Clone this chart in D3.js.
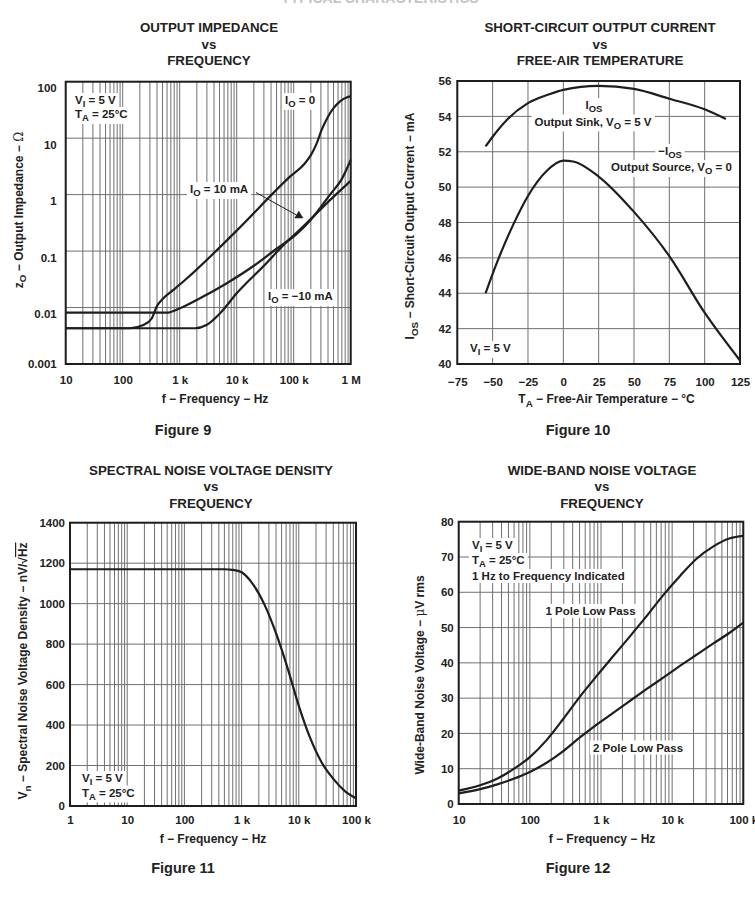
<!DOCTYPE html>
<html><head><meta charset="utf-8">
<script src="https://cdn.jsdelivr.net/npm/d3@7"></script>
<style>
body{margin:0;background:#fff}
svg text{font-family:"Liberation Sans",Arial,Helvetica,sans-serif;font-weight:bold;fill:#222}
</style></head><body>
<svg id="c" width="755" height="908"></svg>
<script>
// ---------- Figure 9: Output impedance vs frequency ----------
const f9Freq_IO0 = [10, 134, 230, 323, 395, 516, 773, 1240, 10000, 87000, 158000, 200000, 253000, 309000, 400000, 500000, 650000, 850000, 1000000];
const f9Z_IO0    = [0.0043, 0.0043, 0.0049, 0.0064, 0.0104, 0.0146, 0.0205, 0.0307, 0.23, 2.1, 3.6, 5.0, 8.1, 14, 24, 34, 45, 52.5, 55];
const f9Freq_IO10 = [10, 590, 1010, 2270, 6700, 20000, 50000, 112000, 200000, 434000, 700000, 1000000];
const f9Z_IO10    = [0.0081, 0.0081, 0.0097, 0.0146, 0.027, 0.055, 0.11, 0.2, 0.36, 1.0, 1.9, 4.1];
const f9Freq_IOm10 = [10, 1860, 2950, 5100, 10000, 30000, 76000, 112000, 434000, 1000000];
const f9Z_IOm10    = [0.0043, 0.0043, 0.0049, 0.0079, 0.0179, 0.055, 0.147, 0.21, 0.8, 1.75];
const f9XTicks = [10, 100, 1e3, 1e4, 1e5, 1e6];
const f9XLabels = ["10", "100", "1 k", "10 k", "100 k", "1 M"];
const f9YTicks = [0.001, 0.01, 0.1, 1, 10, 100];
const f9YLabels = ["0.001", "0.01", "0.1", "1", "10", "100"];

// ---------- Figure 10: Short-circuit output current vs temperature ----------
const f10SinkT = [-55, -50, -40, -25, -10, 0, 25, 50, 75, 100, 115];
const f10SinkI = [52.3, 52.85, 53.8, 54.75, 55.25, 55.5, 55.72, 55.55, 55.0, 54.4, 53.85];
const f10SourceT = [-55, -50, -35, -25, -12, 0, 7, 25, 50, 75, 100, 125];
const f10SourceI = [44.0, 45.1, 47.95, 49.5, 50.9, 51.5, 51.45, 50.6, 48.6, 46.1, 42.9, 40.2];
const f10XTicks = [-75, -50, -25, 0, 25, 50, 75, 100, 125];
const f10XLabels = ["\u221275", "\u221250", "\u221225", "0", "25", "50", "75", "100", "125"];
const f10YTicks = [40, 42, 44, 46, 48, 50, 52, 54, 56];
const f10YLabels = ["40", "42", "44", "46", "48", "50", "52", "54", "56"];

// ---------- Figure 11: Spectral noise voltage density ----------
const f11Freq = [1, 500, 700, 1000, 1585, 2512, 3981, 6310, 10000, 15850, 25120, 39810, 63100, 100000];
const f11Vn   = [1170, 1170, 1167, 1155, 1095, 995, 855, 685, 495, 335, 215, 135, 75, 38];
const f11XTicks = [1, 10, 100, 1e3, 1e4, 1e5];
const f11XLabels = ["1", "10", "100", "1 k", "10 k", "100 k"];
const f11YTicks = [0, 200, 400, 600, 800, 1000, 1200, 1400];
const f11YLabels = ["0", "200", "400", "600", "800", "1000", "1200", "1400"];

// ---------- Figure 12: Wide-band noise voltage ----------
const f12Freq  = [10, 20, 34, 58, 100, 172, 295, 500, 870, 1500, 2500, 4400, 7500, 13000, 22000, 38000, 65000, 100000];
const f12Pole1 = [3.8, 5.3, 7.1, 9.8, 13.3, 18.1, 24.1, 30.3, 36.3, 42.0, 47.3, 53.3, 59.2, 64.7, 69.5, 73.0, 75.3, 76.0];
const f12Pole2 = [3.0, 4.2, 5.5, 7.1, 9.1, 11.7, 15.0, 18.8, 22.5, 25.9, 29.1, 32.6, 35.8, 39.2, 42.3, 45.5, 48.6, 51.4];
const f12XTicks = [10, 100, 1e3, 1e4, 1e5];
const f12XLabels = ["10", "100", "1 k", "10 k", "100 k"];
const f12YTicks = [0, 10, 20, 30, 40, 50, 60, 70, 80];
const f12YLabels = ["0", "10", "20", "30", "40", "50", "60", "70", "80"];

const svg = d3.select("#c");
const INK = "#1e1e1e", GRID = "#707070";

function rich(g, x, y, parts, o = {}) {
  const size = o.size || 11.5;
  const t = g.append("text").attr("x", x).attr("y", y)
    .attr("text-anchor", o.anchor || "start")
    .attr("font-size", size)
    .attr("dominant-baseline", "central");
  if (o.rotate) t.attr("transform", `rotate(-90,${x},${y})`);
  let shift = 0;
  parts.forEach(p => {
    const [s, k] = typeof p === "string" ? [p, null] : p;
    const target = k === "sub" ? size * 0.3 : 0;
    const ts = t.append("tspan").text(s).attr("dy", target - shift);
    if (k === "sub") ts.attr("font-size", size * 0.82);
    if (k === "sym") ts.attr("font-family", "DejaVu Serif, serif").attr("font-weight", "normal");
    if (k === "over") ts.style("text-decoration", "overline");
    shift = target;
  });
  if (o.bg) {
    const b = t.node().getBBox();
    g.insert("rect", () => t.node())
      .attr("x", b.x - 3).attr("y", b.y - 1).attr("width", b.width + 6).attr("height", b.height + 2)
      .attr("fill", "#fff");
  }
  return t;
}

function panel(cfg) {
  const { x0, x1, y0, y1 } = cfg.box;
  const g = svg.append("g");
  const xs = cfg.xScale.range([x0, x1]);
  const ys = cfg.yScale.range([y1, y0]);

  cfg.title.forEach((line, i) => {
    g.append("text").attr("x", cfg.titleX).attr("y", cfg.titleY + i * 16.5)
      .attr("text-anchor", "middle").attr("dominant-baseline", "central")
      .attr("font-size", 13.3).text(line);
  });

  g.append("g").selectAll("line").data(cfg.xGrid).join("line")
    .attr("x1", d => xs(d)).attr("x2", d => xs(d)).attr("y1", y0).attr("y2", y1)
    .attr("stroke", GRID).attr("stroke-width", 1);
  g.append("g").selectAll("line").data(cfg.yGrid).join("line")
    .attr("y1", d => ys(d)).attr("y2", d => ys(d)).attr("x1", x0).attr("x2", x1)
    .attr("stroke", GRID).attr("stroke-width", 1);

  const ann = g.append("g");
  cfg.notes.forEach(n => rich(ann, n.x, n.y, n.parts, { anchor: n.anchor, bg: true }));

  const line = d3.line().x(d => xs(d[0])).y(d => ys(d[1])).curve(d3.curveMonotoneX);
  cfg.series.forEach(s => {
    g.append("path").datum(d3.zip(s[0], s[1])).attr("d", line)
      .attr("fill", "none").attr("stroke", INK).attr("stroke-width", 2.2)
      .attr("stroke-linejoin", "round");
  });

  if (cfg.extra) cfg.extra(g, xs, ys);

  g.append("rect").attr("x", x0).attr("y", y0).attr("width", x1 - x0).attr("height", y1 - y0)
    .attr("fill", "none").attr("stroke", INK).attr("stroke-width", 2);

  const ax = g.append("g").attr("transform", `translate(0,${y1})`)
    .call(d3.axisBottom(xs).tickValues(cfg.xTicks).tickSize(0).tickPadding(cfg.xPad)
      .tickFormat((d, i) => cfg.xLabels[i]));
  const ay = g.append("g").attr("transform", `translate(${x0},0)`)
    .call(d3.axisLeft(ys).tickValues(cfg.yTicks).tickSize(0).tickPadding(cfg.yPad)
      .tickFormat((d, i) => cfg.yLabels[i]));
  [ax, ay].forEach(a => {
    a.select(".domain").remove();
    a.selectAll("text").attr("font-size", 11.5).style("fill", "#222");
    a.attr("font-family", null).attr("font-size", null);
  });
  if (cfg.yDy) ay.selectAll("text").attr("dy", cfg.yDy);

  rich(g, cfg.xTitleX, cfg.xTitleY, cfg.xTitle, { anchor: "middle", size: 12 });
  rich(g, cfg.yTitleX, cfg.yTitleY, cfg.yTitle, { anchor: "middle", size: 12, rotate: true });

  g.append("text").attr("x", cfg.capX).attr("y", cfg.capY).attr("text-anchor", "middle")
    .attr("dominant-baseline", "central").attr("font-size", 14.5).text(cfg.caption);
}

// page header (cut off at top edge, as in the reference)
svg.append("text").attr("x", 380).attr("y", 2.5).attr("text-anchor", "middle")
  .attr("font-size", 14).style("fill", "#c4c4c4").text("TYPICAL CHARACTERISTICS");

// Figure 9
panel({
  box: { x0: 65.7, x1: 350.7, y0: 81.7, y1: 364 },
  xScale: d3.scaleLog().domain([10, 1e6]),
  yScale: d3.scaleLog().domain([0.001, 100]),
  xGrid: d3.scaleLog().domain([10, 1e6]).ticks(),
  yGrid: f9YTicks,
  xTicks: f9XTicks, xLabels: f9XLabels, yTicks: f9YTicks, yLabels: f9YLabels,
  xPad: 12, yPad: 9,
  yDy: d => d === 0.001 ? "0.32em" : "0.88em",
  title: ["OUTPUT IMPEDANCE", "vs", "FREQUENCY"], titleX: 209, titleY: 27.7,
  series: [[f9Freq_IO0, f9Z_IO0], [f9Freq_IO10, f9Z_IO10], [f9Freq_IOm10, f9Z_IOm10]],
  notes: [
    { x: 75, y: 100, parts: ["V", ["I", "sub"], " = 5 V"] },
    { x: 75, y: 114, parts: ["T", ["A", "sub"], " = 25\u00B0C"] },
    { x: 285, y: 100, parts: ["I", ["O", "sub"], " = 0"] },
    { x: 190, y: 189, parts: ["I", ["O", "sub"], " = 10 mA"] },
    { x: 268, y: 296, parts: ["I", ["O", "sub"], " = \u221210 mA"] }
  ],
  extra: (g, xs, ys) => {
    const tx = xs(123000), ty = ys(0.45);
    g.append("line").attr("x1", 256).attr("y1", 192.5).attr("x2", tx - 2).attr("y2", ty + 1)
      .attr("stroke", INK).attr("stroke-width", 1);
    g.append("path").attr("d", `M${tx},${ty - 3.5}L${tx - 4.5},${ty + 4}L${tx + 4.5},${ty + 4}Z`)
      .attr("fill", INK);
  },
  xTitle: ["f \u2212 Frequency \u2212 Hz"], xTitleX: 215, xTitleY: 399,
  yTitle: ["z", ["O", "sub"], " \u2212 Output Impedance \u2212 ", ["\u03A9", "sym"]], yTitleX: 18.5, yTitleY: 210,
  caption: "Figure 9", capX: 183, capY: 430
});

// Figure 10
panel({
  box: { x0: 457.3, x1: 740, y0: 81, y1: 364 },
  xScale: d3.scaleLinear().domain([-75, 125]),
  yScale: d3.scaleLinear().domain([40, 56]),
  xGrid: f10XTicks, yGrid: f10YTicks,
  xTicks: f10XTicks, xLabels: f10XLabels, yTicks: f10YTicks, yLabels: f10YLabels,
  xPad: 13.5, yPad: 6,
  title: ["SHORT-CIRCUIT OUTPUT CURRENT", "vs", "FREE-AIR TEMPERATURE"], titleX: 600, titleY: 27.7,
  series: [[f10SinkT, f10SinkI], [f10SourceT, f10SourceI]],
  notes: [
    { x: 594, y: 105, anchor: "middle", parts: ["I", ["OS", "sub"]] },
    { x: 593, y: 121.5, anchor: "middle", parts: ["Output Sink, V", ["O", "sub"], " = 5 V"] },
    { x: 670, y: 151, anchor: "middle", parts: ["\u2212I", ["OS", "sub"]] },
    { x: 671.5, y: 167, anchor: "middle", parts: ["Output Source, V", ["O", "sub"], " = 0"] },
    { x: 470, y: 348, parts: ["V", ["I", "sub"], " = 5 V"] }
  ],
  xTitle: ["T", ["A", "sub"], " \u2212 Free-Air Temperature \u2212 \u00B0C"], xTitleX: 606.5, xTitleY: 399,
  yTitle: ["I", ["OS", "sub"], " \u2212 Short-Circuit Output Current \u2212 mA"], yTitleX: 410, yTitleY: 226,
  caption: "Figure 10", capX: 578, capY: 430
});

// Figure 11
panel({
  box: { x0: 70, x1: 356, y0: 522.7, y1: 806 },
  xScale: d3.scaleLog().domain([1, 1e5]),
  yScale: d3.scaleLinear().domain([0, 1400]),
  xGrid: d3.scaleLog().domain([1, 1e5]).ticks(), yGrid: f11YTicks,
  xTicks: f11XTicks, xLabels: f11XLabels, yTicks: f11YTicks, yLabels: f11YLabels,
  xPad: 10, yPad: 5,
  title: ["SPECTRAL NOISE VOLTAGE DENSITY", "vs", "FREQUENCY"], titleX: 211, titleY: 470,
  series: [[f11Freq, f11Vn]],
  notes: [
    { x: 82, y: 778, parts: ["V", ["I", "sub"], " = 5 V"] },
    { x: 82, y: 792.5, parts: ["T", ["A", "sub"], " = 25\u00B0C"] }
  ],
  xTitle: ["f \u2212 Frequency \u2212 Hz"], xTitleX: 213, xTitleY: 838.5,
  yTitle: ["V", ["n", "sub"], " \u2212 Spectral Noise Voltage Density \u2212 nV/\u221A", ["Hz", "over"]], yTitleX: 23, yTitleY: 671,
  caption: "Figure 11", capX: 183, capY: 868
});

// Figure 12
panel({
  box: { x0: 458.7, x1: 743.3, y0: 521.7, y1: 804 },
  xScale: d3.scaleLog().domain([10, 1e5]),
  yScale: d3.scaleLinear().domain([0, 80]),
  xGrid: d3.scaleLog().domain([10, 1e5]).ticks(), yGrid: f12YTicks,
  xTicks: f12XTicks, xLabels: f12XLabels, yTicks: f12YTicks, yLabels: f12YLabels,
  xPad: 12, yPad: 5,
  title: ["WIDE-BAND NOISE VOLTAGE", "vs", "FREQUENCY"], titleX: 602, titleY: 470,
  series: [[f12Freq, f12Pole1], [f12Freq, f12Pole2]],
  notes: [
    { x: 472, y: 545, parts: ["V", ["I", "sub"], " = 5 V"] },
    { x: 472, y: 560, parts: ["T", ["A", "sub"], " = 25\u00B0C"] },
    { x: 472, y: 576, parts: ["1 Hz to Frequency Indicated"] },
    { x: 590.5, y: 611, anchor: "middle", parts: ["1 Pole Low Pass"] },
    { x: 638, y: 747.5, anchor: "middle", parts: ["2 Pole Low Pass"] }
  ],
  xTitle: ["f \u2212 Frequency \u2212 Hz"], xTitleX: 602, xTitleY: 838.5,
  yTitle: ["Wide-Band Noise Voltage \u2212 ", ["\u03BC", "sym"], "V rms"], yTitleX: 420, yTitleY: 675,
  caption: "Figure 12", capX: 578, capY: 868
});
</script>
</body></html>
